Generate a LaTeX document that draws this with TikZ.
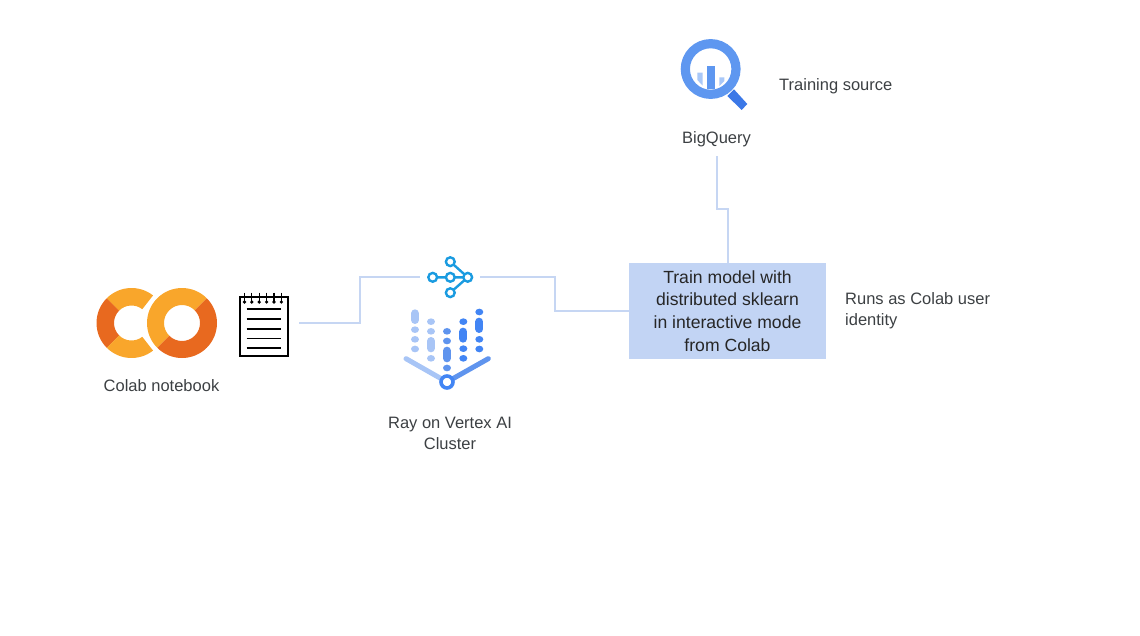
\documentclass[tikz,border=0pt]{standalone}
\usepackage{fontspec}
\setmainfont{Liberation Sans}
\definecolor{wire}{HTML}{C6D6F3}
\definecolor{boxfill}{HTML}{C2D4F4}
\definecolor{txt}{HTML}{3C4043}
\definecolor{oLight}{HTML}{F9A62B}
\definecolor{oDark}{HTML}{E8691F}
\definecolor{netblue}{HTML}{1A9BE0}
\definecolor{rayA}{HTML}{A8C5F6}
\definecolor{rayB}{HTML}{5F94EE}
\definecolor{rayC}{HTML}{4285F4}
\definecolor{bqA}{HTML}{5E97F0}
\definecolor{bqB}{HTML}{3B78E7}
\definecolor{bqC}{HTML}{A9C8F8}
\tikzset{
  lbl/.style={text=txt,font=\fontsize{16.5}{21}\selectfont,inner sep=0pt},
  lblc/.style={lbl,align=center},
  lbll/.style={lbl,align=left,anchor=west},
  wireline/.style={draw=wire,line width=2pt},
  trainbox/.style={fill=boxfill,minimum width=197pt,minimum height=96pt,inner sep=0pt,align=center,text=black!85,font=\fontsize{17.6}{22.6}\selectfont},
  netc/.style={draw=netblue,line width=2.4pt,fill=white},
  nbline/.style={line width=1.6pt,draw=black},
  capsule/.style={line width=8pt,line cap=round}
}
\begin{document}
\begin{tikzpicture}[x=1pt,y=-1pt]
\useasboundingbox (0,0) rectangle (1140,635);
% Colab logo: y axis is flipped, so angles are written negated
\def\ann#1#2#3#4#5#6#7{\fill[#7] ({#1+#4*cos(#5)},{#2-#4*sin(#5)}) arc[start angle=-#5,end angle=-#6,radius=#4] -- ({#1+#3*cos(#6)},{#2-#3*sin(#6)}) arc[start angle=-#6,end angle=-#5,radius=#3] -- cycle;}
\ann{131.5}{323}{17.5}{35}{52}{135}{oLight}
\ann{131.5}{323}{17.5}{35}{135}{225}{oDark}
\ann{131.5}{323}{17.5}{35}{225}{308}{oLight}
\ann{182}{323}{18}{35}{45}{225}{oLight}
\ann{182}{323}{18}{35}{225}{405}{oDark}
\node[lblc] (colab) at (161.5,386) {Colab notebook};
% Notebook
\draw[line width=2pt,fill=white] (240,297) rectangle (287.5,355.5);
\foreach \x in {244.5,251.8,259.2,266.6,274,281.4}{
  \draw[line width=1.2pt] (\x,292.5) -- (\x,302);
  \fill (\x,302) circle (1.8);
}
\foreach \y in {309,318.7,328.7,338.3,348}{
  \draw[nbline] (246.7,\y) -- (281,\y);
}
\coordinate (nbout) at (299,323);
% Network icon
\coordinate (nL) at (432.7,277.3);
\coordinate (nM) at (450.3,277.3);
\coordinate (nR) at (467.7,277.3);
\coordinate (nT) at (450.3,261.7);
\coordinate (nB) at (450.3,292.7);
\draw[netblue,line width=2.4pt] (nL) -- (nR) (nT) -- (nR) -- (nB);
\foreach \p in {nL,nM,nR,nT,nB}{ \draw[netc] (\p) circle (4.4); }
\coordinate (netin) at (420,277.3);
\coordinate (netout) at (480,277.3);
% Ray icon
\begin{scope}[shift={(390,245)},x=0.3333pt,y=-0.3333pt]
  \foreach \c/\x/\ya/\yb/\dl in {rayA/75/205/225/{254,283,312},rayA/123/288/310/{230,259,340},rayB/171/317/340/{259,288,369},rayC/220/260/281/{230,311,340},rayC/268/230/252/{201,283,312}}{
    \draw[\c,capsule] (\x,\ya) -- (\x,\yb);
    \foreach \d in \dl { \fill[\c] (\x,\d) ellipse (12 and 10); }
  }
  \draw[rayA,line width=5pt,line cap=round] (48,341) -- (171,411);
  \draw[rayB,line width=5pt,line cap=round] (295,341) -- (171,411);
  \draw[rayC,line width=3.6pt,fill=white] (171,411) circle (18);
\end{scope}
\node[lblc] (ray) at (450,433.5) {Ray on Vertex AI\\Cluster};
% BigQuery icon
\begin{scope}[shift={(670,35)},x=0.3333pt,y=-0.3333pt]
  \fill[bqB] (192,163) -- (232,207) -- (215,225) -- (172,183) -- cycle;
  \draw[bqA,line width=9.2pt] (122,102) circle (76);
  \fill[bqA] (111,92) rectangle (134,161);
  \fill[bqC] (82,113) -- (98,113) -- (98,152) -- (82,135) -- cycle;
  \fill[bqC] (148,127) -- (163,127) -- (163,138) -- (148,153) -- cycle;
\end{scope}
\node[lblc] (bq) at (716.5,139) {BigQuery};
\node[lbll] (src) at (779,86) {Training source};
% Train box
\node[trainbox] (train) at (727.5,311) {Train model with\\distributed sklearn\\in interactive mode\\from Colab};
\node[lbll] (runs) at (845,311) {Runs as Colab user\\identity};
% Connectors
\coordinate (bqout) at (716.5,156);
\draw[wireline] (nbout) -- (360,323) -- (360,277.3) -- (netin);
\draw[wireline] (netout) -- (555,277.3) -- (555,310.5) -- (train.west |- 0,310.5);
\draw[wireline] (bqout) -- (716.5,209) -- (727.5,209) -- (train.north);
\end{tikzpicture}
\end{document}
